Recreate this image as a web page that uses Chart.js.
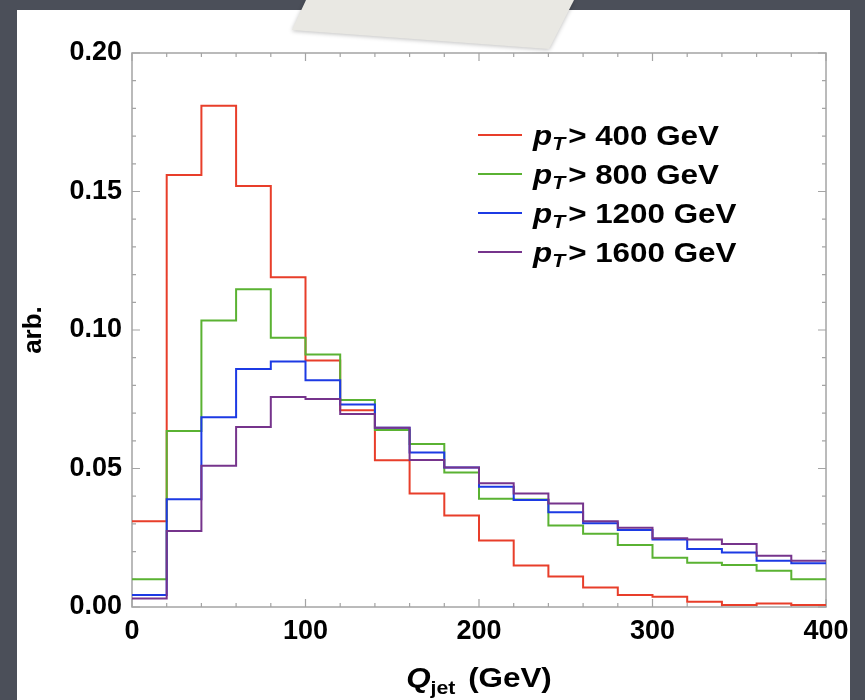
<!DOCTYPE html>
<html>
<head>
<meta charset="utf-8">
<script src="https://cdn.jsdelivr.net/npm/chart.js@4.4.1/dist/chart.umd.min.js"></script>
<style>
  html, body { margin: 0; padding: 0; background: #4b4f59; }
  #wrap { position: relative; width: 865px; height: 700px; overflow: hidden; }
  #card { position: absolute; left: 17px; top: 10px; width: 833px; height: 700px; background: #fff; }
  #chart { position: absolute; left: 0; top: 0; }
</style>
</head>
<body>
<div id="wrap">
  <div id="card"></div>
  <canvas id="chart" width="865" height="700"></canvas>
</div>
<script>
// Histogram of Q_jet, 20 GeV bins from 0 to 400
const binStart = [0, 20, 40, 60, 80, 100, 120, 140, 160, 180, 200, 220, 240, 260, 280, 300, 320, 340, 360, 380];
const binEnd = 400;

const ptCuts = ['400', '800', '1200', '1600'];

const red400 = [0.031, 0.156, 0.181, 0.152, 0.119, 0.089, 0.071, 0.053, 0.041, 0.033, 0.024, 0.015, 0.011, 0.007, 0.0043, 0.0037, 0.0019, 0.0007, 0.0013, 0.0007];
const green800 = [0.010, 0.0635, 0.1034, 0.1147, 0.0972, 0.0912, 0.0747, 0.0639, 0.0588, 0.0486, 0.0391, 0.0388, 0.0294, 0.0264, 0.0224, 0.0178, 0.0160, 0.0152, 0.0131, 0.0100];
const blue1200 = [0.0043, 0.0389, 0.0685, 0.0859, 0.0886, 0.0819, 0.0731, 0.0647, 0.0558, 0.0504, 0.0434, 0.0386, 0.0342, 0.0302, 0.0278, 0.0244, 0.0209, 0.0197, 0.0167, 0.0158];
const purple1600 = [0.0031, 0.0274, 0.0510, 0.0650, 0.0758, 0.0751, 0.0697, 0.0647, 0.0531, 0.0504, 0.0447, 0.0410, 0.0374, 0.0310, 0.0286, 0.0248, 0.0244, 0.0227, 0.0185, 0.0167];

const seriesValues = [red400, green800, blue1200, purple1600];
const seriesColors = ['rgb(232,62,42)', 'rgb(90,178,50)', 'rgb(28,58,228)', 'rgb(118,52,140)'];

const xTicks = [0, 100, 200, 300, 400];
const yTicks = [0, 0.05, 0.10, 0.15, 0.20];

const FONT = '"Liberation Sans", Arial, Helvetica, sans-serif';
const STRETCH = 1.12; // reference text is a bit wide

// histogram points: each bin value held from its left edge, last one carried to the end
function histPoints(values) {
  const pts = binStart.map((x, i) => ({ x: x, y: values[i] }));
  pts.push({ x: binEnd, y: values[values.length - 1] });
  return pts;
}

// draw text stretched horizontally, return advance
function wideText(ctx, text, x, y, font) {
  ctx.font = font;
  ctx.save();
  ctx.translate(x, y);
  ctx.scale(STRETCH, 1);
  ctx.fillText(text, 0, 0);
  ctx.restore();
  return ctx.measureText(text).width * STRETCH;
}

// frame with inward ticks on all four sides (Mathematica style)
const framePlugin = {
  id: 'frame',
  beforeDatasetsDraw(chart) {
    const { ctx, chartArea: a, scales } = chart;
    const xs = scales.x, ys = scales.y;
    ctx.save();
    ctx.strokeStyle = '#a4a4a4';
    ctx.lineWidth = 1.5;
    ctx.strokeRect(a.left, a.top, a.right - a.left, a.bottom - a.top);
    ctx.lineWidth = 1.2;
    ctx.beginPath();
    for (let v = 0; v <= 400; v += 20) {
      const px = xs.getPixelForValue(v);
      const len = v % 100 === 0 ? 8 : 4;
      ctx.moveTo(px, a.bottom); ctx.lineTo(px, a.bottom - len);
      ctx.moveTo(px, a.top); ctx.lineTo(px, a.top + len);
    }
    for (let k = 0; k <= 20; k++) {
      const py = ys.getPixelForValue(k / 100);
      const len = k % 5 === 0 ? 8 : 4;
      ctx.moveTo(a.left, py); ctx.lineTo(a.left + len, py);
      ctx.moveTo(a.right, py); ctx.lineTo(a.right - len, py);
    }
    ctx.stroke();
    ctx.restore();
  }
};

// legend and x title with subscripts, plus the tape on top of the card
const textPlugin = {
  id: 'texts',
  afterDraw(chart) {
    const { ctx, chartArea: a } = chart;
    ctx.save();
    ctx.fillStyle = '#000';
    ctx.textBaseline = 'alphabetic';

    // legend
    const rowY = [135, 174, 213, 252];
    ptCuts.forEach((cut, i) => {
      const y = rowY[i];
      ctx.strokeStyle = seriesColors[i];
      ctx.lineWidth = 2;
      ctx.beginPath();
      ctx.moveTo(478, y); ctx.lineTo(522, y);
      ctx.stroke();
      let x = 533;
      const base = y + 10;
      x += wideText(ctx, 'p', x, base, 'italic bold 28px ' + FONT);
      x += wideText(ctx, 'T', x, base + 5, 'italic bold 19px ' + FONT) + 3;
      wideText(ctx, '> ' + cut + ' GeV', x, base, 'bold 28px ' + FONT);
    });

    // x axis title
    const cx = (a.left + a.right) / 2;
    const base = 687;
    ctx.font = 'italic bold 28px ' + FONT;
    const wQ = ctx.measureText('Q').width * STRETCH;
    ctx.font = 'bold 19px ' + FONT;
    const wJ = ctx.measureText('jet').width * STRETCH;
    ctx.font = 'bold 28px ' + FONT;
    const wG = ctx.measureText(' (GeV)').width * STRETCH;
    let x = cx - (wQ + wJ + 4 + wG) / 2;
    x += wideText(ctx, 'Q', x, base, 'italic bold 28px ' + FONT);
    x += wideText(ctx, 'jet', x, base + 7, 'bold 19px ' + FONT) + 4;
    wideText(ctx, ' (GeV)', x, base, 'bold 28px ' + FONT);

    // tape
    ctx.shadowColor = 'rgba(0,0,0,0.25)';
    ctx.shadowBlur = 4;
    ctx.shadowOffsetY = 1;
    ctx.fillStyle = '#e9e8e3';
    ctx.beginPath();
    ctx.moveTo(306, 0);
    ctx.lineTo(574, 0);
    ctx.lineTo(549, 49);
    ctx.lineTo(292, 30);
    ctx.closePath();
    ctx.fill();
    ctx.restore();
  }
};

const datasets = seriesValues.map((vals, i) => ({
  label: 'pT > ' + ptCuts[i] + ' GeV',
  data: histPoints(vals),
  borderColor: seriesColors[i],
  backgroundColor: seriesColors[i],
  borderWidth: 2,
  pointRadius: 0,
  stepped: true,
  fill: false,
  order: seriesValues.length - i
}));

new Chart(document.getElementById('chart'), {
  type: 'line',
  data: { datasets: datasets },
  options: {
    responsive: false,
    animation: false,
    layout: { padding: { left: 0, top: 53, right: 39, bottom: 0 } },
    plugins: {
      legend: { display: false },
      tooltip: { enabled: false }
    },
    scales: {
      x: {
        type: 'linear',
        min: 0,
        max: 400,
        afterBuildTicks: s => { s.ticks = xTicks.map(v => ({ value: v })); },
        afterFit: s => { s.height = 93; },
        grid: { display: false },
        border: { display: false },
        ticks: {
          color: '#000',
          padding: 0,
          font: { family: FONT, size: 27, weight: 'bold' }
        }
      },
      y: {
        min: 0,
        max: 0.2,
        afterBuildTicks: s => { s.ticks = yTicks.map(v => ({ value: v })); },
        afterFit: s => { s.width = 132; },
        grid: { display: false },
        border: { display: false },
        title: {
          display: true,
          text: 'arb.',
          color: '#000',
          padding: { top: 18, bottom: 0 },
          font: { family: FONT, size: 26, weight: 'bold' }
        },
        ticks: {
          color: '#000',
          padding: 2,
          callback: v => v.toFixed(2),
          font: { family: FONT, size: 27, weight: 'bold' }
        }
      }
    }
  },
  plugins: [framePlugin, textPlugin]
});
</script>
</body>
</html>
